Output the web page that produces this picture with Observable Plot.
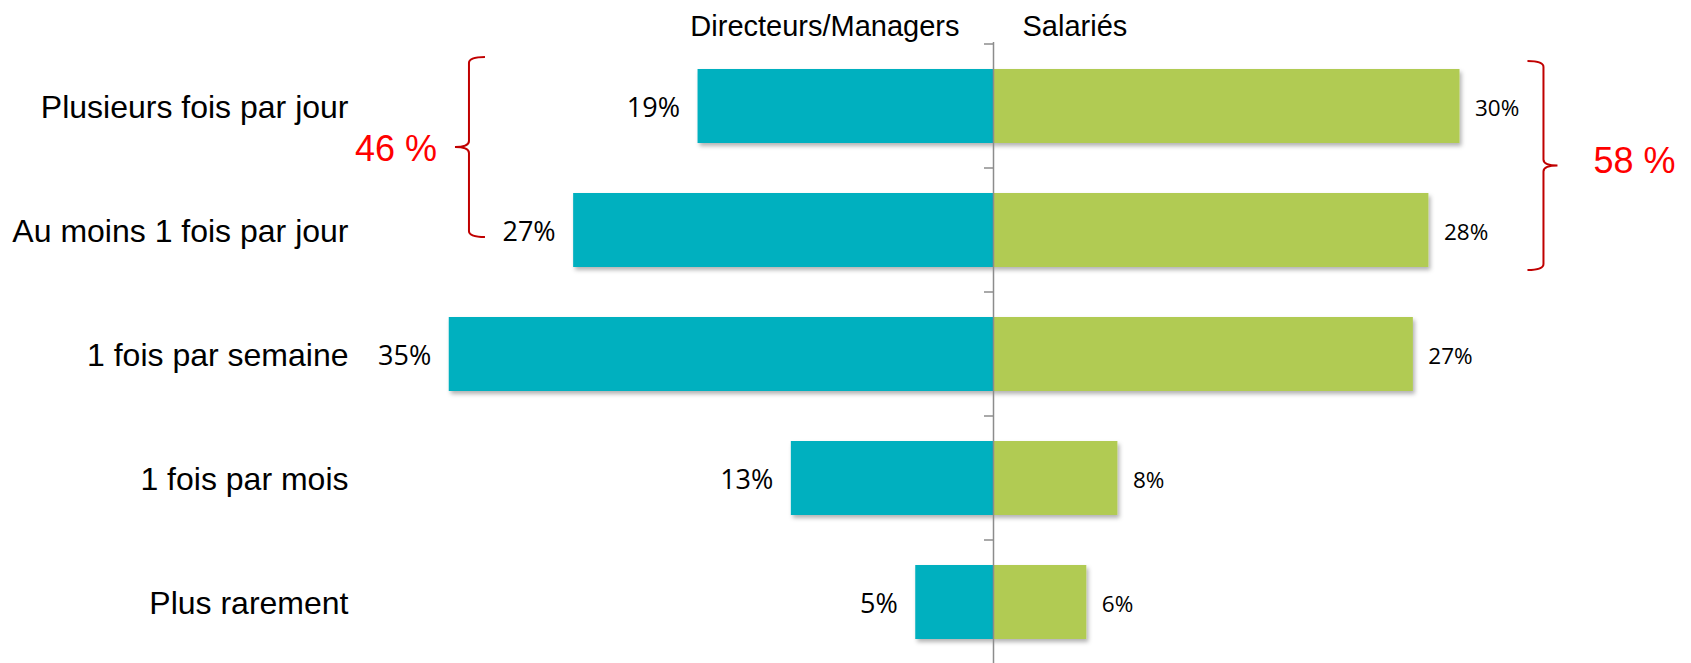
<!DOCTYPE html>
<html><head><meta charset="utf-8">
<script src="https://cdn.jsdelivr.net/npm/d3@7"></script>
<script src="https://cdn.jsdelivr.net/npm/@observablehq/plot@0.6"></script>
<style>
html,body{margin:0;padding:0;background:#fff;}
#chart svg{display:block;}
</style>
</head><body><div id="chart"></div>
<script>
const categories = ["Plusieurs fois par jour", "Au moins 1 fois par jour", "1 fois par semaine", "1 fois par mois", "Plus rarement"];
const directeurs = [19, 27, 35, 13, 5];
const salaries = [30, 28, 27, 8, 6];
const groupLabels = ["Directeurs/Managers", "Salariés"];
const braceTotals = ["46 %", "58 %"];

const rows = categories.map((c, i) => ({cat: c, dir: directeurs[i], sal: salaries[i]}));

const teal = "#00B0BF", green = "#B1CB52", totalRed = "#FF0000", braceRed = "#C00000", axisGray = "#8C8C8C";
const arial = "Liberation Sans, Arial, sans-serif";
const calibriLike = "Open Sans, sans-serif";

// axis ticks at band boundaries + braces (drawn through the plot's scales)
function annotations(index, scales) {
  const {x, y} = scales;
  const g = d3.create("svg:g");
  const step = y(categories[1]) - y(categories[0]);
  const bw = typeof y.bandwidth === "function" ? y.bandwidth() : step * 0.6;
  const gap = (step - bw) / 2;
  const x0 = x(0);
  const bounds = categories.map(c => y(c) - gap).concat([y(categories[categories.length - 1]) + bw + gap]);
  g.append("g").attr("stroke", axisGray).attr("stroke-width", 1.5)
    .selectAll("line").data(bounds).join("line")
    .attr("x1", x0 - 9).attr("x2", x0).attr("y1", d => d).attr("y2", d => d);

  const braces = [
    {x: x(-33.7), top: y(categories[0]) - 12, bot: y(categories[1]) + bw / 2 + 7, s: -1, text: braceTotals[0], tdx: -32, tdy: 1},
    {x: x(35.4), top: y(categories[0]) - 8, bot: y(categories[1]) + bw + 3, s: 1, text: braceTotals[1], tdx: 50, tdy: -5}
  ];
  const hw = 16, tw = 14, r = 6;
  for (const b of braces) {
    const mid = (b.top + b.bot) / 2;
    const p = `M${b.x - b.s * hw},${b.top} Q${b.x},${b.top} ${b.x},${b.top + r} L${b.x},${mid - r} Q${b.x},${mid} ${b.x + b.s * tw},${mid} Q${b.x},${mid} ${b.x},${mid + r} L${b.x},${b.bot - r} Q${b.x},${b.bot} ${b.x - b.s * hw},${b.bot}`;
    g.append("path").attr("d", p).attr("fill", "none").attr("stroke", braceRed).attr("stroke-width", 2);
    g.append("text").attr("x", b.x + b.tdx).attr("y", mid + b.tdy).attr("dy", "0.36em")
      .attr("text-anchor", b.s < 0 ? "end" : "start")
      .attr("font-family", arial).attr("font-size", 36).attr("fill", totalRed).text(b.text);
  }
  return g.node();
}

const plot = Plot.plot({
  width: 1691,
  height: 663,
  marginLeft: 371,
  marginRight: 76,
  marginTop: 42,
  marginBottom: 0,
  style: {background: "#fff"},
  x: {domain: [-40, 40], axis: null},
  y: {domain: categories, range: [42, 666], paddingInner: 0.4, paddingOuter: 0.2, axis: null},
  marks: [
    Plot.barX(rows, {x1: d => -d.dir, x2: 0, y: "cat", fill: teal}),
    Plot.barX(rows, {x1: 0, x2: "sal", y: "cat", fill: green}),
    Plot.ruleX([0], {stroke: axisGray, strokeWidth: 1.5}),
    annotations,
    Plot.text(rows, {x: d => -d.dir, y: "cat", text: d => d.dir + "%", textAnchor: "end", dx: -18, dy: 2, fontSize: 27, fontFamily: calibriLike, fill: "#000"}),
    Plot.text(rows, {x: "sal", y: "cat", text: d => d.sal + "%", textAnchor: "start", dx: 15, dy: 2, fontSize: 22.5, fontFamily: calibriLike, fill: "#000"}),
    Plot.text(rows, {y: "cat", text: "cat", frameAnchor: "left", textAnchor: "end", dx: -23, dy: 1, fontSize: 32, fontFamily: arial, fill: "#000"}),
    Plot.text([groupLabels[0]], {x: 0, text: d => d, frameAnchor: "top", lineAnchor: "bottom", textAnchor: "end", dx: -34, dy: -7, fontSize: 29, fontFamily: arial, fill: "#000"}),
    Plot.text([groupLabels[1]], {x: 0, text: d => d, frameAnchor: "top", lineAnchor: "bottom", textAnchor: "start", dx: 29, dy: -7, fontSize: 29, fontFamily: arial, fill: "#000"})
  ]
});

const svg = d3.select(plot);
svg.insert("defs", ":first-child").html('<filter id="barShadow" x="-5%" y="-10%" width="115%" height="140%"><feDropShadow dx="2" dy="3" stdDeviation="2" flood-color="#000" flood-opacity="0.3"/></filter>');
svg.selectAll('g[aria-label="bar"]').attr("filter", "url(#barShadow)");
document.getElementById("chart").appendChild(plot);
</script>
</body></html>
